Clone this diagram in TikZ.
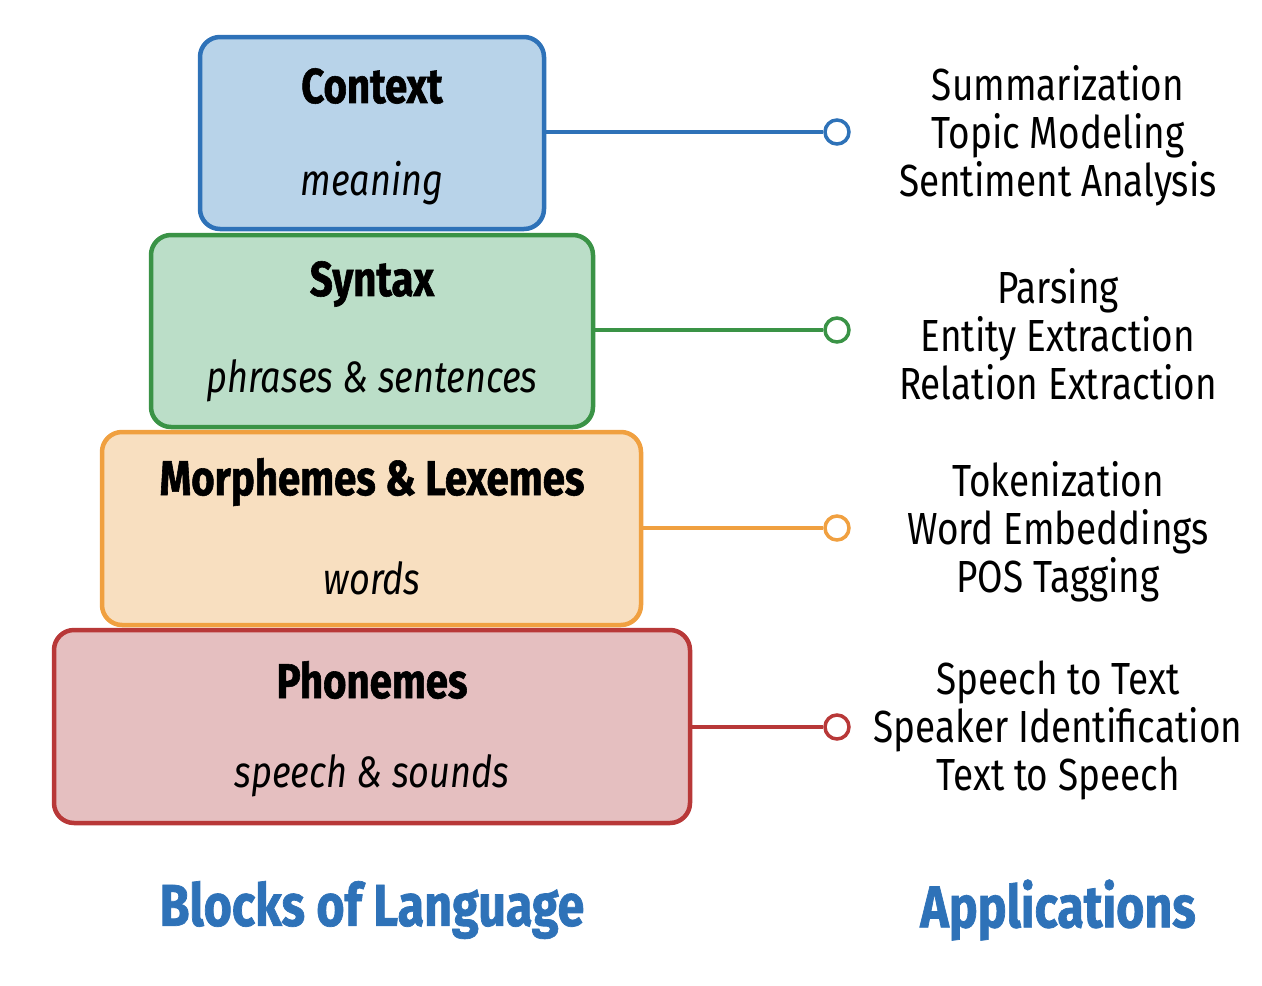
\documentclass[tikz,border=0pt]{standalone}
\usepackage{fontspec}
\setmainfont{Fira Sans}[FakeStretch=0.82, BoldFeatures={FakeBold=1.2}]
\usetikzlibrary{positioning}
\definecolor{cblue}{HTML}{2E72B8}
\definecolor{fblue}{HTML}{B8D3E9}
\definecolor{cgreen}{HTML}{3A9346}
\definecolor{fgreen}{HTML}{BBDEC8}
\definecolor{corange}{HTML}{F0A040}
\definecolor{forange}{HTML}{F8DFC0}
\definecolor{cred}{HTML}{B83838}
\definecolor{fred}{HTML}{E5BFC0}
\tikzset{
  blockbox/.style={draw, line width=4.5pt, rounded corners=20pt, inner sep=0pt},
  titletext/.style={font=\fontsize{49}{54}\selectfont\bfseries, anchor=center},
  subtext/.style={font=\fontsize{44}{50}\selectfont\itshape, anchor=center},
  apptext/.style={font=\fontsize{45}{48}\selectfont, align=center, anchor=center},
  headtext/.style={font=\fontsize{59}{64}\selectfont\bfseries, text=cblue, anchor=center},
  conn/.style={line width=4pt},
  endcirc/.style={circle, draw, line width=3.5pt, fill=white, minimum size=24pt, inner sep=0pt},
}
\begin{document}
\begin{tikzpicture}[x=1pt,y=-1pt]
\useasboundingbox (0,0) rectangle (1262,986);
% boxes
\node[blockbox, draw=cblue, fill=fblue, minimum width=344pt, minimum height=192pt] (ctx) at (372,133) {};
\node[blockbox, draw=cgreen, fill=fgreen, minimum width=442pt, minimum height=192pt] (syn) at (372,331) {};
\node[blockbox, draw=corange, fill=forange, minimum width=539pt, minimum height=193pt] (mor) at (371.5,528.5) {};
\node[blockbox, draw=cred, fill=fred, minimum width=636pt, minimum height=193pt] (pho) at (372,726.5) {};
% texts
\node[titletext] (ctxt) at (372,86) {Context};
\node[subtext] (ctxs) at (372,183) {meaning};
\node[titletext] (synt) at (372,284) {Syntax};
\node[subtext] (syns) at (372,381) {phrases \& sentences};
\node[titletext] (mort) at (372,482) {Morphemes \& Lexemes};
\node[subtext] (mors) at (372,578) {words};
\node[titletext] (phot) at (372,680) {Phonemes};
\node[subtext] (phos) at (372,776) {speech \& sounds};
% end circles
\node[endcirc, draw=cblue] (c1) at (837,132) {};
\node[endcirc, draw=cgreen] (c2) at (837,330) {};
\node[endcirc, draw=corange] (c3) at (837,528) {};
\node[endcirc, draw=cred] (c4) at (837,727) {};
\draw[conn, cblue] (ctx.east |- c1) -- (c1.west);
\draw[conn, cgreen] (syn.east |- c2) -- (c2.west);
\draw[conn, corange] (mor.east |- c3) -- (c3.west);
\draw[conn, cred] (pho.east |- c4) -- (c4.west);
% applications
\node[apptext] (a1) at (1058,136) {Summarization\\Topic Modeling\\Sentiment Analysis};
\node[apptext] (a2) at (1058,334) {Parsing\\Entity Extraction\\Relation Extraction};
\node[apptext] (a3) at (1058,532) {Tokenization\\Word Embeddings\\POS Tagging};
\node[apptext] (a4) at (1058,730) {Speech to Text\\Speaker Identification\\Text to Speech};
% headings
\node[headtext] (h1) at (372,910) {Blocks of Language};
\node[headtext] (h2) at (1058,910) {Applications};
\end{tikzpicture}
\end{document}
